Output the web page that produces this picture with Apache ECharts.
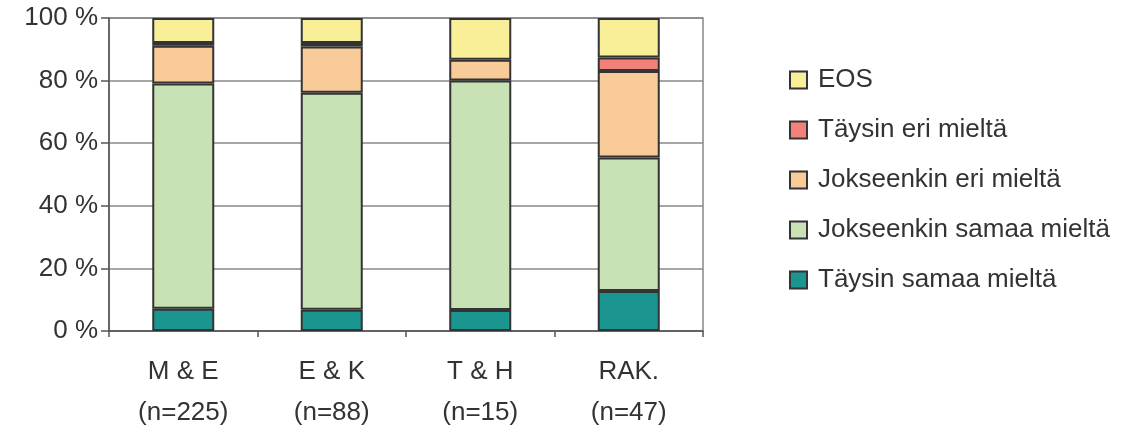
<!DOCTYPE html>
<html lang="fi">
<head>
    <meta charset="UTF-8">
    <title>Kaavio</title>
    <script src="https://cdn.jsdelivr.net/npm/echarts@6/dist/echarts.min.js"></script>
</head>
<body style="margin:0;background:#fff;">
<div id="main" style="width: 1132px;height:427px;"></div>

<script type="text/javascript">
    // data
    var categories = ['M & E', 'E & K', 'T & H', 'RAK.'];
    var nValues = [225, 88, 15, 47];
    var yTicks = [0, 20, 40, 60, 80, 100];

    var taysinSamaa = [7.1, 6.8, 6.7, 12.8];
    var jokseenkinSamaa = [72.0, 69.3, 73.3, 42.6];
    var jokseenkinEri = [12.0, 14.8, 6.7, 27.7];
    var taysinEri = [0.9, 1.1, 0, 4.3];
    var eos = [8.0, 8.0, 13.3, 12.6];

    var names = ['Täysin samaa mieltä', 'Jokseenkin samaa mieltä', 'Jokseenkin eri mieltä', 'Täysin eri mieltä', 'EOS'];
    var colors = ['#1a9590', '#c9e2b5', '#f8cb98', '#f2817a', '#f9ef98'];
    var values = [taysinSamaa, jokseenkinSamaa, jokseenkinEri, taysinEri, eos];

    var myChart = echarts.init(document.getElementById('main'));

    var series = names.map(function (name, i) {
        return {
            name: name,
            type: 'bar',
            stack: 'total',
            barWidth: 62,
            // zero -> no segment, so no extra border line
            data: values[i].map(function (v) { return v === 0 ? '-' : v; }),
            itemStyle: {
                color: colors[i],
                borderColor: '#333',
                borderWidth: 2
            }
        };
    });

    myChart.setOption({
        animation: false,
        textStyle: {fontFamily: 'Liberation Sans, Arial, sans-serif'},
        grid: {
            left: 109, top: 18, right: 429, bottom: 96,
            outerBoundsMode: 'none',
            containLabel: false,
            show: true, borderColor: '#888', borderWidth: 1.5
        },
        legend: {
            orient: 'vertical',
            left: 784,
            top: 62,
            itemWidth: 17,
            itemHeight: 17,
            itemGap: 24,
            data: names.slice().reverse(),
            icon: 'rect',
            itemStyle: {borderColor: '#333', borderWidth: 2},
            textStyle: {fontSize: 26, color: '#333', lineHeight: 26, padding: [0, 0, 0, 6]}
        },
        xAxis: {
            type: 'category',
            data: categories,
            axisLine: {lineStyle: {color: '#555', width: 1.5}},
            axisTick: {show: true, alignWithLabel: false, length: 6, lineStyle: {color: '#555', width: 1.5}},
            axisLabel: {
                fontSize: 26,
                color: '#333',
                lineHeight: 41,
                margin: 20,
                formatter: function (v, idx) {
                    return v + '\n(n=' + nValues[idx] + ')';
                }
            }
        },
        yAxis: {
            type: 'value',
            min: yTicks[0],
            max: yTicks[yTicks.length - 1],
            interval: 20,
            axisLine: {show: true, lineStyle: {color: '#555', width: 1.5}},
            axisTick: {show: true, length: 8, lineStyle: {color: '#555', width: 1.5}},
            axisLabel: {
                fontSize: 26,
                color: '#333',
                margin: 11,
                formatter: '{value} %'
            },
            splitLine: {lineStyle: {color: '#888', width: 1.5}}
        },
        series: series
    });
</script>

</body>
</html>
